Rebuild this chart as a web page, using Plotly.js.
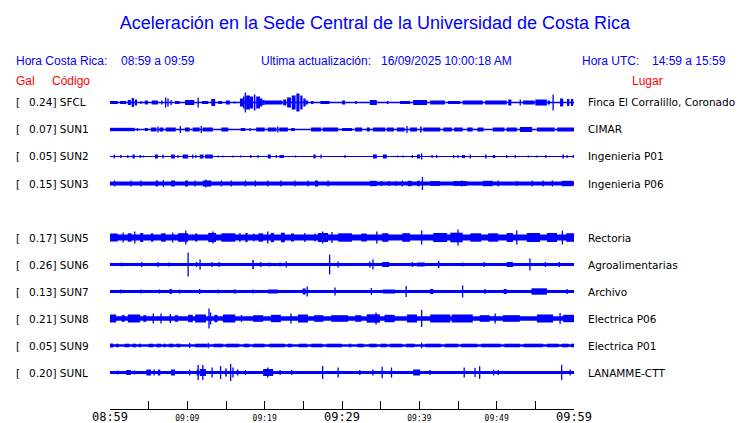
<!DOCTYPE html>
<html><head><meta charset="utf-8">
<script src="https://cdn.plot.ly/plotly-3.0.1.min.js"></script>
<style>html,body{margin:0;padding:0;background:#fff;overflow:hidden}</style>
</head><body><div id="chart" style="width:740px;height:423px"></div>
<script>
// ---------------- data ----------------
const codes  = ['SFCL','SUN1','SUN2','SUN3','SUN5','SUN6','SUN7','SUN8','SUN9','SUNL'];
const gals   = ['0.24','0.07','0.05','0.15','0.17','0.26','0.13','0.21','0.05','0.20'];
const places = ['Finca El Corralillo, Coronado','CIMAR','Ingenieria P01','Ingenieria P06','Rectoria',
                'Agroalimentarias','Archivo','Electrica P06','Electrica P01','LANAMME-CTT'];
const rowIndex = [0,1,2,3,5,6,7,8,9,10];          // SUN4 row is empty
const bandHalf = [0.7,0.7,0.6,1.9,3.1,1.4,1.5,2.2,1.2,1.5]; // background noise half-amplitude

// events: [start minute, end minute, half amplitude]  (minutes after 08:59)
const ev_SFCL = [[0.0,1.0,1.5],[1.3,2.1,1.5],[2.3,2.7,2.5],[2.8,3.1,4.5],[3.2,3.5,3],[4.0,4.0,1.5],[4.5,4.9,2],
 [5.4,6.2,2],[6.7,6.7,2],[7.2,7.2,5],[7.5,7.5,4],[7.9,7.9,2.5],[8.4,9.0,1.5],[9.7,10.9,2.5],[11.4,11.4,5],
 [11.9,12.7,1.5],[13.1,13.6,3.5],[14.0,14.5,1.5],[15.0,15.5,2],[16.0,16.2,1],
 [16.8,17.2,4],[17.2,17.4,6],[17.5,17.5,10],[17.6,18.1,7],[18.1,18.5,6],[18.6,18.8,8],[18.9,19.4,6],[19.4,19.7,4],[19.7,20.0,2.5],
 [20.0,22.3,2],[22.4,22.8,3],[22.9,23.4,5],[23.5,24.0,7],[24.1,24.5,9],[24.6,24.9,7],[25.0,25.3,4],[25.3,25.6,2],
 [26.0,26.3,1.5],[27.2,28.4,1.5],[30.0,30.4,2],[31.7,31.9,1.5],[33.6,34.5,2.5],[35.8,36.0,1.5],[37.5,38.8,1.5],
 [39.2,41.0,2.5],[41.4,43.3,2],[43.7,45.3,1.5],[45.6,48.2,2],[48.5,51.3,2],[51.5,51.9,3],[53.0,53.1,3],[53.4,54.9,2],
 [55.0,56.5,3],[56.6,56.9,2],[57.3,57.3,8],[58.2,58.6,4],[59.1,59.4,3.5],[59.6,59.9,3.5]];
const ev_SUN1 = [[0,3.2,1.7],[3.5,3.6,1.5],[4.5,4.9,1.5],[5.3,6.0,2],[6.2,6.2,3],[6.4,6.9,2],[7.2,8.5,2],[9.1,9.1,3.5],
 [9.7,10.3,2],[10.7,11.6,2],[11.8,11.8,3.5],[12.0,13.3,2],[14.4,15.3,2],[16.9,17.5,1.5],[18.1,18.1,1.5],[18.9,20.0,2],
 [20.4,21.5,2],[21.7,21.7,3],[21.9,23.0,2],[23.4,23.9,1.5],[26.0,27.3,2],[27.5,29.5,2],[30.0,31.3,1.5],[31.7,32.6,2],
 [33.2,33.6,2],[34.0,35.6,2],[35.8,36.7,2],[37.1,38.1,2],[38.4,38.4,3.5],[38.8,39.7,2],[40.1,40.3,3],[40.5,42.7,2],
 [43.1,44.2,2],[44.5,45.6,2],[46.2,46.9,2],[47.5,48.3,2],[49.5,51.0,2],[51.3,52.6,2],[53.0,54.6,2.5],[55.2,57.5,2],[57.8,60,2]];
const ev_SUN2 = [[0.5,0.6,2],[1.4,1.4,1.5],[2.3,2.3,1.5],[2.9,3.2,2],[3.9,3.9,1.5],[4.3,4.3,1],[5.8,6.2,2],[6.8,6.9,2],
 [7.9,8.4,2],[8.8,8.8,1.5],[9.4,10.1,2],[10.7,10.7,2],[11.1,11.1,1.5],[11.6,12.1,2],[12.3,13.3,2],[14.0,14.0,1],
 [14.6,14.6,1],[15.9,15.9,1],[16.9,16.9,1],[18.2,18.2,1.5],[19.1,19.2,1.5],[20.4,20.8,2],[21.5,21.5,1.5],[21.9,22.5,1.5],
 [24.0,24.0,1],[26.3,26.6,2],[27.3,27.3,2],[30.4,30.4,1.5],[34.0,34.5,2],[35.3,35.8,2],[37.2,37.2,1],[37.9,37.9,1],
 [39.1,39.1,1.5],[39.7,40.1,2],[40.3,40.3,3],[41.6,41.7,1.5],[42.2,42.3,1.5],[44.4,44.5,1.5],[45.0,45.0,1.5],
 [45.5,45.9,1.5],[46.6,46.6,2],[48.5,48.7,2],[49.5,49.8,1.5],[51.3,51.3,1.5],[52.4,52.4,1.5],[54.1,54.1,1],[55.2,55.2,1],
 [56.3,56.4,1.5],[58.5,58.7,2],[59.1,59.1,1.5],[59.9,59.9,1.5]];
const ev_SUN3 = [[0.6,0.6,3],[2.7,2.7,3],[4.0,4.0,3],[5.9,6.2,3],[6.9,6.9,3.5],[7.9,8.4,3],[9.7,10.1,3],[11.0,11.0,3],
 [12.0,13.1,3],[12.4,12.4,4],[14.4,14.4,3],[15.7,15.7,3],[17.5,17.5,3],[18.8,18.8,3],[20.4,20.4,3],[22.1,22.1,3],
 [23.9,23.9,3],[25.6,25.6,3],[26.5,26.9,3],[28.2,28.2,3],[33.6,34.5,2.7],[35.0,35.2,2.5],[36.0,36.2,2.5],[37.0,37.0,2.5],
 [37.8,37.8,3],[38.5,39.0,2.7],[39.7,40.1,2.7],[40.4,40.4,6.5],[41.4,42.7,2.4],[44.4,46.2,2.4],[45.5,45.5,3],[48.2,49.5,2.7],
 [50.2,50.2,3],[52.6,52.6,2.5],[54.6,54.6,3],[56.0,56.0,3],[57.2,57.2,3],[58.4,59.9,2.7]];
const ev_SUN5 = [[0,1.0,4],[1.7,1.7,5],[2.3,2.8,4.2],[3.2,3.2,6],[3.9,4.3,4.5],[5.3,5.6,4.2],[6.6,7.2,4.2],[8.1,8.1,5],
 [8.8,10.1,4.3],[9.8,9.8,7],[11.0,11.3,4],[12.7,13.7,4.6],[13.3,13.3,6],[14.4,16.2,4.2],[16.8,16.8,4.5],[17.5,17.8,4.6],
 [18.6,18.6,4],[19.2,19.8,4.2],[20.4,20.4,6],[20.8,21.2,4.6],[22.1,22.6,4.8],[23.4,23.8,4],[25.2,25.2,4.5],[26.5,26.5,4],
 [26.9,28.2,4.5],[27.5,27.5,6],[28.7,28.7,5.5],[29.5,31.3,4.2],[32.5,33.2,4],[34.5,34.5,6],[35.2,36.0,4.3],[37.8,38.8,4.3],
 [40.3,40.3,7],[41.8,43.6,4.5],[44.0,45.6,4.8],[45.0,45.0,8],[46.6,48.0,4.2],[48.9,50.2,4.2],[51.3,52.1,4.5],[52.6,52.6,7],
 [53.9,55.6,4.5],[56.5,57.8,4.5],[58.5,58.5,7],[59.0,60,4.3]];
const ev_SUN6 = [[1.5,1.5,2],[4.1,4.1,2.5],[6.2,6.2,2.5],[7.6,7.6,2],[10.1,10.1,12],[11.2,11.2,2.5],[11.6,11.7,5],
 [13.2,13.2,2.5],[14.1,14.1,2.5],[16.3,16.3,1.5],[18.4,18.6,4.5],[19.5,19.5,2.5],[20.6,20.6,2],[22.0,22.0,2],
 [22.8,22.8,3],[28.4,28.4,10],[29.5,29.5,3],[33.6,33.6,3],[34.0,34.0,5],[35.2,36.1,2.5],[39.1,39.1,2.5],[39.7,40.7,2],
 [42.4,42.6,3.5],[45.6,45.6,2],[48.4,48.4,2.5],[51.3,52.1,2.5],[54.3,54.3,6],[56.3,56.3,2.5],[58.0,58.2,2.5]];
const ev_SUN7 = [[1.4,1.4,2],[4.0,4.0,2],[6.4,6.4,2],[7.7,8.0,2.5],[9.0,9.0,2],[11.6,11.6,2.5],[14.0,14.0,2],
 [16.0,16.3,2],[18.5,18.5,2],[20.4,21.7,2],[24.9,25.3,3],[25.5,25.5,5],[29.1,29.1,4],[33.8,33.8,3.5],[35.3,36.9,2],
 [38.3,38.3,5.5],[41.4,41.8,2.5],[45.6,45.6,6],[48.5,48.5,2.5],[50.9,51.3,2.5],[54.5,56.5,3.2],[59.1,59.1,2.5]];
const ev_SUN8 = [[0,0.8,4],[1.5,1.9,3.3],[2.3,3.9,4],[4.3,4.7,3.3],[5.6,5.6,5],[6.6,6.6,5],[7.8,7.8,4.5],
 [8.4,8.8,3.3],[10.1,10.7,3.7],[11.0,12.4,4],[12.8,12.8,10],[12.9,13.1,6],[13.5,13.9,3.7],[14.6,16.2,4],[17.0,17.0,3.5],
 [18.5,19.8,3.3],[20.8,22.1,3.7],[23.4,23.4,5],[24.3,25.6,4],[26.4,27.6,3.3],[28.6,30.8,3.3],[31.7,32.5,3.3],
 [33.2,34.9,4.2],[34.4,34.4,6],[35.5,36.8,3.7],[38.4,39.7,4],[40.3,40.3,8.5],[41.4,44.0,4],[44.2,46.9,4],
 [47.8,49.1,3.3],[49.8,49.8,5],[50.8,53.0,3.3],[55.2,57.3,4],[58.2,58.2,5.5],[58.6,60,3.7]];
const ev_SUN9 = [[0,0.4,2],[0.8,1.1,1.8],[1.9,2.5,1.8],[2.9,3.4,1.8],[3.7,4.0,1.8],[5.0,5.6,1.8],[6.0,6.6,1.8],
 [6.9,7.2,1.8],[7.6,8.2,1.8],[8.6,9.1,1.8],[10.3,10.3,2.5],[11.0,12.5,1.8],[12.7,12.7,2.8],[13.4,14.6,1.8],
 [15.0,16.7,1.8],[17.3,18.0,1.8],[18.5,20.0,1.8],[20.6,22.6,1.8],[23.0,23.5,1.8],[24.4,25.5,1.8],[26.0,27.5,1.8],
 [28.0,30.0,1.8],[30.9,31.2,1.8],[32.0,32.8,1.8],[33.5,34.5,1.8],[35.0,35.8,1.8],[36.2,37.8,1.8],[38.3,39.4,1.8],
 [40.3,40.3,2.7],[40.8,42.8,1.8],[43.3,45.0,1.8],[45.4,47.5,1.8],[48.0,50.5,1.8],[51.0,53.0,1.8],[53.5,56.0,1.8],
 [56.5,58.0,1.8],[58.4,59.3,1.8],[59.6,60,1.8]];
const ev_SUNL = [[1.0,1.0,2],[2.1,2.7,2.5],[3.2,3.2,2],[4.7,5.3,3],[5.7,5.7,3],[6.2,6.5,3],[7.9,8.4,3],[10.3,10.3,3],
 [11.3,11.3,3],[11.4,11.4,7.5],[11.6,12.4,3.5],[12.0,12.0,7.5],[13.2,13.2,5],[14.3,14.3,6.5],[14.9,15.1,4],
 [15.6,15.6,8.5],[15.9,15.9,5],[16.4,16.6,3],[17.5,17.5,2.5],[19.8,21.1,3.5],[20.4,20.4,5],[22.0,22.0,2.5],
 [23.5,23.5,2.5],[27.5,27.5,6.5],[29.5,29.5,5],[32.3,32.3,2.5],[34.0,34.0,3],[35.2,35.2,5.7],[36.4,36.4,5],
 [39.2,40.1,3],[41.4,41.4,2.5],[45.8,45.8,5],[47.2,47.2,4.5],[47.8,47.8,6.3],[49.6,49.6,3],[50.2,50.2,2.5],
 [58.4,58.4,7.7],[59.5,59.5,3]];
const events = [ev_SFCL,ev_SUN1,ev_SUN2,ev_SUN3,ev_SUN5,ev_SUN6,ev_SUN7,ev_SUN8,ev_SUN9,ev_SUNL];

const timeRange   = [0, 60];
const tickMinutes = [0,5,10,15,20,25,30,35,40,45,50,55,60];
const majorLabelMinutes = [0,30,60];
const majorLabelText = ['08:59','09:29','09:59'];
const minorLabelMinutes = [10,20,40,50];
const minorLabelText = ['09:09','09:19','09:39','09:49'];

const titleText = 'Aceleración en la Sede Central de la Universidad de Costa Rica';
const headerBlue = [['Hora Costa Rica:',15],['08:59 a 09:59',120],['Ultima actualización:',260],
                    ['16/09/2025 10:00:18 AM',380],['Hora UTC:',580.5],['14:59 a 15:59',651]];
const headerRed  = [['Gal',15],['Código',50.5],['Lugar',630.5]];

// ---------------- layout geometry ----------------
const W = 740, H = 423, X0 = 110, X1 = 574, YB = 409;
const ROW0 = 102.5, ROWSTEP = 27;
const BLUE = '#0000ff';

const traces = [];
codes.forEach((c, s) => {
  const b = ROW0 + ROWSTEP * rowIndex[s];
  traces.push({type:'scatter', mode:'lines', x: timeRange, y:[b,b], hoverinfo:'skip',
               line:{color:BLUE, width: 2*bandHalf[s]}, showlegend:false});
  const ev = events[s];
  traces.push({type:'bar', hoverinfo:'skip', showlegend:false,
    x: ev.map(e => (e[0]+e[1])/2),
    width: ev.map(e => Math.max(e[1]-e[0], 0.17)),
    base: ev.map(e => b - e[2]),
    y: ev.map(e => 2*e[2]),
    marker:{color:BLUE, line:{width:0}}});
});
traces.push({type:'scatter', mode:'markers', x: minorLabelMinutes, y: minorLabelMinutes.map(()=>null),
             xaxis:'x2', yaxis:'y', showlegend:false, hoverinfo:'skip'});
traces.push({type:'scatter', mode:'markers', x: majorLabelMinutes, y: majorLabelMinutes.map(()=>null),
             xaxis:'x3', yaxis:'y', showlegend:false, hoverinfo:'skip'});

const ann = [];
const px = v => v / W, py = v => 1 - v / H;
headerBlue.forEach(([t, x]) => ann.push({text:t, x:px(x), y:py(61), xref:'paper', yref:'paper', xanchor:'left',
  yanchor:'middle', showarrow:false, borderpad:0, font:{family:'Liberation Sans', size:12, color:BLUE}}));
headerRed.forEach(([t, x]) => ann.push({text:t, x:px(x), y:py(81), xref:'paper', yref:'paper', xanchor:'left',
  yanchor:'middle', showarrow:false, borderpad:0, font:{family:'Liberation Sans', size:12, color:'#ff0000'}}));
codes.forEach((c, s) => {
  const b = ROW0 + ROWSTEP * rowIndex[s];
  const f = {family:'DejaVu Sans', size:10.5, color:'#000'};
  ann.push({text:'[', x:px(15), y:py(b), xref:'paper', yref:'paper', xanchor:'left', yanchor:'middle', showarrow:false, borderpad:0, font:f});
  ann.push({text:gals[s] + '] ' + c, x:px(27.5), y:py(b), xref:'paper', yref:'paper', xanchor:'left', yanchor:'middle', showarrow:false, borderpad:0, font:f});
  ann.push({text:places[s], x:px(587), y:py(b), xref:'paper', yref:'paper', xanchor:'left', yanchor:'middle', showarrow:false, borderpad:0, font:f});
});

const axBase = {domain:[X0/W, X1/W], range:timeRange, showgrid:false, zeroline:false, fixedrange:true};
const layout = {
  width: W, height: H, autosize:false,
  margin:{l:0, r:0, t:0, b:0, pad:0},
  paper_bgcolor:'#fff', plot_bgcolor:'#fff',
  showlegend:false, barmode:'overlay', hovermode:false,
  title:{text:titleText, x:375/W, xanchor:'center', y:1-23/H, yanchor:'middle', xref:'paper',
         font:{family:'Liberation Sans', size:18, color:BLUE}},
  // tick marks + axis line
  xaxis:Object.assign({}, axBase, {tickmode:'array', tickvals:tickMinutes, ticktext:tickMinutes.map(()=>''),
         ticks:'inside', ticklen:8, tickwidth:1, tickcolor:'#000', showline:true, linecolor:'#000', linewidth:1,
         anchor:'y', tickfont:{size:1}}),
  // small labels
  xaxis2:Object.assign({}, axBase, {overlaying:'x', anchor:'y', side:'bottom', tickmode:'array',
         tickvals:minorLabelMinutes, ticktext:minorLabelText, ticks:'', showline:false, ticklabelstandoff:3,
         tickfont:{family:'DejaVu Sans Mono', size:8, color:'#000'}}),
  // large labels
  xaxis3:Object.assign({}, axBase, {overlaying:'x', anchor:'y', side:'bottom', tickmode:'array',
         tickvals:majorLabelMinutes, ticktext:majorLabelText, ticks:'', showline:false, ticklabelstandoff:-1,
         tickfont:{family:'DejaVu Sans Mono', size:12, color:'#000'}}),
  yaxis:{domain:[(H-YB)/H, 1], range:[YB, 0], visible:false, fixedrange:true, showgrid:false, zeroline:false},
  annotations: ann
};
Plotly.newPlot('chart', traces, layout, {staticPlot:true, displayModeBar:false});
</script></body></html>
